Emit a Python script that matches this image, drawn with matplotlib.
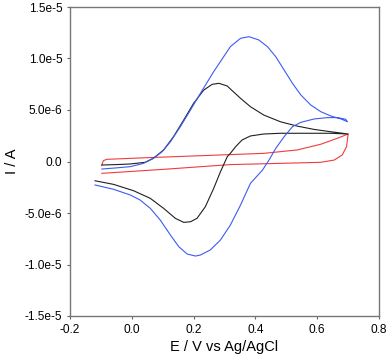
import numpy as np
import matplotlib.pyplot as plt

plt.rcParams['font.family'] = ['Liberation Sans', 'DejaVu Sans']

# blue CV (forward sweep then reverse), E in V, I in 1e-6 A
blue_E = [-0.097, -0.050, -0.005, 0.038, 0.070, 0.098, 0.125, 0.157, 0.190, 0.222, 0.265,
          0.319, 0.352, 0.379, 0.411, 0.439, 0.466, 0.493, 0.520, 0.547, 0.579, 0.612,
          0.644, 0.677, 0.698,
          0.692, 0.666, 0.633, 0.590, 0.547, 0.520, 0.493, 0.466, 0.444, 0.423, 0.384,
          0.352, 0.319, 0.287, 0.254, 0.222, 0.206, 0.179, 0.152, 0.125, 0.092, 0.060,
          0.027, -0.005, -0.059, -0.119]
blue_I = [-0.73, -0.62, -0.50, -0.18, 0.31, 0.95, 1.92, 3.38, 5.00, 6.62, 8.72,
          11.15, 11.96, 12.12, 11.80, 11.15, 10.17, 8.88, 7.59, 6.46, 5.49, 4.83,
          4.42, 4.13, 3.86,
          4.10, 4.26, 4.26, 4.13, 3.80, 3.38, 2.41, 1.28, 0.14, -0.83, -2.12,
          -4.22, -6.17, -7.62, -8.59, -9.08, -9.18, -8.98, -8.27, -7.14, -5.68, -4.55,
          -3.74, -3.25, -2.70, -2.28]

black_E = [-0.097, -0.050, -0.005, 0.043, 0.070, 0.103, 0.135, 0.168, 0.200, 0.233, 0.260,
           0.282, 0.309, 0.319, 0.352, 0.384, 0.427, 0.481, 0.535, 0.589, 0.644, 0.700,
           0.644, 0.589, 0.481, 0.427, 0.384, 0.357, 0.336, 0.319, 0.309, 0.287, 0.265,
           0.238, 0.211, 0.190, 0.168, 0.141, 0.103, 0.060, 0.006, -0.059, -0.119]
black_I = [-0.34, -0.30, -0.24, -0.08, 0.31, 1.12, 2.41, 4.03, 5.65, 6.94, 7.49,
           7.59, 7.33, 7.04, 6.13, 5.32, 4.51, 3.86, 3.44, 3.12, 2.89, 2.67,
           2.74, 2.74, 2.74, 2.67, 2.48, 2.09, 1.44, 0.79, 0.47, -0.99, -2.61,
           -4.39, -5.52, -5.85, -5.91, -5.52, -4.55, -3.58, -2.84, -2.22, -1.87]

red_E = [-0.097, -0.096, -0.092, -0.081, 0.049, 0.319, 0.427, 0.535, 0.611, 0.665, 0.700,
         0.699, 0.695, 0.681, 0.655, 0.611, 0.481, 0.319, 0.103, -0.097]
red_I = [-0.40, -0.24, 0.08, 0.21, 0.37, 0.67, 0.79, 1.12, 1.67, 2.25, 2.67,
         2.41, 1.44, 0.63, 0.14, -0.08, -0.18, -0.30, -0.76, -1.15]

xticks = [-0.2, 0.0, 0.2, 0.4, 0.6, 0.8]
xticklabels = ['-0.2', '0.0', '0.2', '0.4', '0.6', '0.8']
yticks = [1.5e-5, 1.0e-5, 5.0e-6, 0.0, -5.0e-6, -1.0e-5, -1.5e-5]
yticklabels = ['1.5e-5', '1.0e-5', '5.0e-6', '0.0', '-5.0e-6', '-1.0e-5', '-1.5e-5']

fig = plt.figure(figsize=(3.88, 3.58), dpi=100)
ax = fig.add_axes([70/388, 42/358, 309/388, 309/358])

ax.plot(red_E, np.array(red_I)*1e-6, color='#f03c3c', lw=0.8)
ax.plot(black_E, np.array(black_I)*1e-6, color='#202020', lw=0.8)
ax.plot(blue_E, np.array(blue_I)*1e-6, color='#3c5cf0', lw=0.8)

ax.set_xlim(-0.2, 0.8)
ax.set_ylim(-1.5e-5, 1.5e-5)
ax.set_xticks(xticks)
ax.set_xticklabels(xticklabels)
ax.set_yticks(yticks)
ax.set_yticklabels(yticklabels)
ax.tick_params(direction='out', length=2.5, width=0.8, pad=3, labelsize=8.6, color='#666666')
for s in ax.spines.values():
    s.set_color('#777777')
    s.set_linewidth(1.0)

ax.set_xlabel('E / V vs Ag/AgCl', fontsize=10.5, labelpad=3)
ax.set_ylabel('I / A', fontsize=10.5, labelpad=4)

plt.savefig('out.png', dpi=100)
